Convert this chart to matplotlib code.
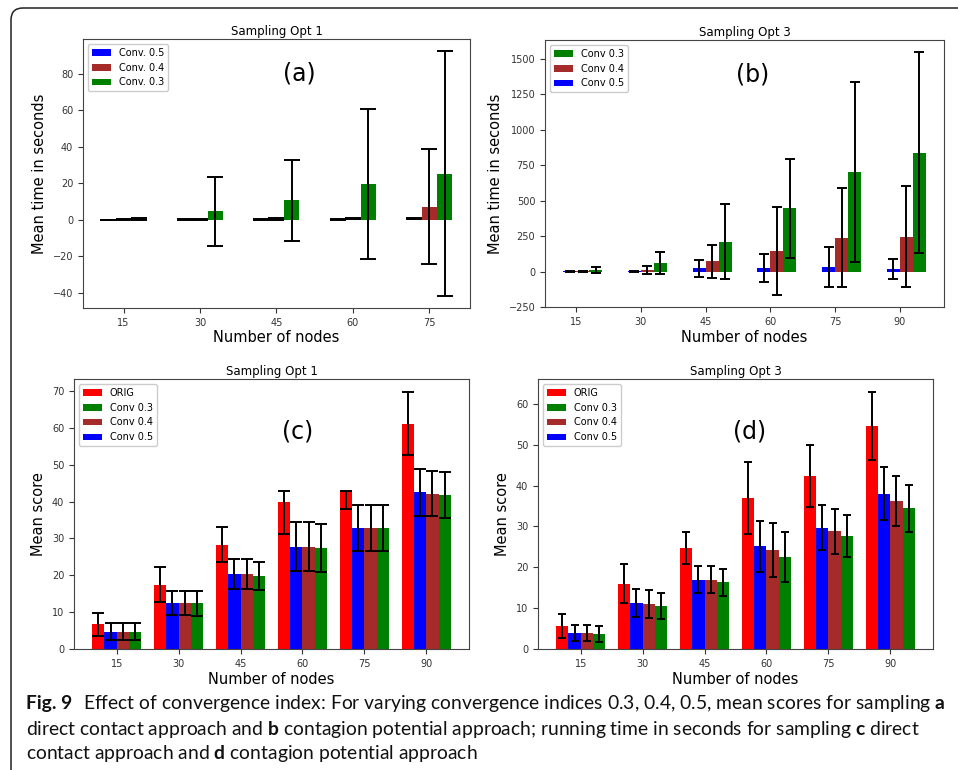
import matplotlib
matplotlib.use('Agg')
import matplotlib.pyplot as plt
import numpy as np
from matplotlib.patches import FancyBboxPatch
from matplotlib.transforms import IdentityTransform

# ---------------- data ----------------
nodes_a = ['15', '30', '45', '60', '75']
nodes = ['15', '30', '45', '60', '75', '90']

# (a) running time, Sampling Opt 1
a_c05 = [0.05, 0.1, 0.2, 0.3, 0.8]
a_c05_err = [0.05, 0.1, 0.1, 0.2, 0.3]
a_c04 = [0.1, 0.2, 0.4, 0.6, 7.2]
a_c04_err = [0.1, 0.2, 0.3, 0.4, 31.5]
a_c03 = [0.3, 4.6, 10.6, 19.4, 25.3]
a_c03_err = [0.4, 18.8, 22.3, 41.0, 66.9]

# (b) running time, Sampling Opt 3
b_c05 = [0.5, 1, 24, 24, 33, 19]
b_c05_err = [1, 1, 60, 97, 143, 72]
b_c04 = [0.5, 10, 71, 145, 240, 247]
b_c04_err = [1, 30, 117, 308, 352, 358]
b_c03 = [10, 61, 212, 445, 704, 839]
b_c03_err = [22, 75, 265, 348, 634, 709]
b_ymin = -250

# (c) mean score, Sampling Opt 1
c_orig = [6.7, 17.5, 28.2, 39.9, 43.0, 61.2]
c_orig_err_lo = [3.2, 4.7, 4.7, 8.6, 5.0, 8.6]
c_orig_err_hi = [3.1, 4.8, 4.8, 3.0, 0.0, 8.6]
c_c05 = [4.7, 12.5, 20.3, 27.8, 32.8, 42.5]
c_c05_err = [2.3, 3.3, 4.0, 6.7, 6.2, 6.4]
c_c04 = [4.7, 12.5, 20.3, 27.8, 32.8, 42.2]
c_c04_err = [2.3, 3.3, 4.0, 6.7, 6.2, 6.2]
c_c03 = [4.7, 12.4, 19.8, 27.5, 32.8, 41.8]
c_c03_err = [2.3, 3.4, 3.8, 6.5, 6.2, 6.2]

# (d) mean score, Sampling Opt 3
d_orig = [5.7, 16.0, 24.7, 36.9, 42.4, 54.6]
d_orig_err = [2.95, 4.8, 3.9, 8.8, 7.65, 8.35]
d_c05 = [3.85, 11.3, 17.0, 25.1, 29.7, 38.05]
d_c05_err = [2.0, 3.4, 3.4, 6.2, 5.45, 6.4]
d_c04 = [3.85, 11.1, 17.0, 24.2, 28.8, 36.2]
d_c04_err = [2.0, 3.4, 3.4, 6.6, 5.45, 6.05]
d_c03 = [3.6, 10.6, 16.3, 22.5, 27.6, 34.4]
d_c03_err = [2.0, 3.2, 3.35, 6.05, 5.2, 5.65]

caption_label = "Fig. 9"
caption_lines = [
    r"Effect of convergence index: For varying convergence indices 0.3, 0.4, 0.5, mean scores for sampling $\mathbf{a}$",
    r"direct contact approach and $\mathbf{b}$ contagion potential approach; running time in seconds for sampling $\mathbf{c}$ direct",
    r"contact approach and $\mathbf{d}$ contagion potential approach",
]

# ---------------- style ----------------
plt.rcParams['font.family'] = ['DejaVu Sans']
plt.rcParams['mathtext.fontset'] = 'custom'
plt.rcParams['mathtext.rm'] = 'Lato'
plt.rcParams['mathtext.bf'] = 'Lato:bold'
plt.rcParams['axes.edgecolor'] = '#444444'
plt.rcParams['xtick.color'] = '#333333'
plt.rcParams['ytick.color'] = '#333333'

TICK = 7
LAB = 10.5
TIT = 8.5
LEG = 7
PANEL = 17

W, H = 958, 770
fig = plt.figure(figsize=(W / 100, H / 100), dpi=100)


def axrect(l, t, r, b):
    return [l / W, 1 - b / H, (r - l) / W, (b - t) / H]


def ekw(cs):
    return dict(ecolor='black', elinewidth=1.4, capthick=1.4, capsize=cs)


def finish(ax, labels, title, ylabel, tag, tagpos, handles):
    ax.set_xticks(np.arange(len(labels)))
    ax.set_xticklabels(labels)
    ax.tick_params(labelsize=TICK)
    ax.set_title(title, fontsize=TIT, pad=3)
    ax.set_xlabel('Number of nodes', fontsize=LAB, labelpad=2)
    ax.set_ylabel(ylabel, fontsize=LAB)
    ax.text(tagpos[0], tagpos[1], tag, transform=ax.transAxes, fontsize=PANEL,
            ha='center', va='center')
    ax.legend(handles=handles, loc='upper left', fontsize=LEG, framealpha=1)


# (a)
ax = fig.add_axes(axrect(83, 39, 470, 308))
x = np.arange(len(nodes_a))
cs = 5.5
h05 = ax.bar(x - 0.2, a_c05, 0.2, yerr=a_c05_err, color='blue', label='Conv. 0.5', error_kw=ekw(cs))
h04 = ax.bar(x, a_c04, 0.2, yerr=a_c04_err, color='brown', label='Conv. 0.4', error_kw=ekw(cs))
h03 = ax.bar(x + 0.2, a_c03, 0.2, yerr=a_c03_err, color='green', label='Conv. 0.3', error_kw=ekw(cs))
finish(ax, nodes_a, 'Sampling Opt 1', 'Mean time in seconds', '(a)', (0.558, 0.87),
       [h05, h04, h03])

# (b)
ax = fig.add_axes(axrect(545, 40, 944, 307))
x = np.arange(len(nodes))
cs = 3.3
h05 = ax.bar(x - 0.1, b_c05, 0.2, yerr=b_c05_err, color='blue', label='Conv 0.5', error_kw=ekw(cs))
h04 = ax.bar(x + 0.1, b_c04, 0.2, yerr=b_c04_err, color='brown', label='Conv 0.4', error_kw=ekw(cs))
h03 = ax.bar(x + 0.3, b_c03, 0.2, yerr=b_c03_err, color='green', label='Conv 0.3', error_kw=ekw(cs))
ax.set_ylim(bottom=b_ymin)
finish(ax, nodes, 'Sampling Opt 3', 'Mean time in seconds', '(b)', (0.521, 0.869),
       [h03, h04, h05])

# (c)
ax = fig.add_axes(axrect(74, 379, 469, 649))
cs = 4
ho = ax.bar(x - 0.3, c_orig, 0.2, yerr=[c_orig_err_lo, c_orig_err_hi], color='red', label='ORIG', error_kw=ekw(cs))
h05 = ax.bar(x - 0.1, c_c05, 0.2, yerr=c_c05_err, color='blue', label='Conv 0.5', error_kw=ekw(cs))
h04 = ax.bar(x + 0.1, c_c04, 0.2, yerr=c_c04_err, color='brown', label='Conv 0.4', error_kw=ekw(cs))
h03 = ax.bar(x + 0.3, c_c03, 0.2, yerr=c_c03_err, color='green', label='Conv 0.3', error_kw=ekw(cs))
finish(ax, nodes, 'Sampling Opt 1', 'Mean score', '(c)', (0.565, 0.807),
       [ho, h03, h04, h05])

# (d)
ax = fig.add_axes(axrect(538, 379, 933, 649))
cs = 3.2
ho = ax.bar(x - 0.3, d_orig, 0.2, yerr=d_orig_err, color='red', label='ORIG', error_kw=ekw(cs))
h05 = ax.bar(x - 0.1, d_c05, 0.2, yerr=d_c05_err, color='blue', label='Conv 0.5', error_kw=ekw(cs))
h04 = ax.bar(x + 0.1, d_c04, 0.2, yerr=d_c04_err, color='brown', label='Conv 0.4', error_kw=ekw(cs))
h03 = ax.bar(x + 0.3, d_c03, 0.2, yerr=d_c03_err, color='green', label='Conv 0.3', error_kw=ekw(cs))
finish(ax, nodes, 'Sampling Opt 3', 'Mean score', '(d)', (0.535, 0.807),
       [ho, h03, h04, h05])

# ---------------- frame ----------------
frame = FancyBboxPatch((11, -40), 1000, H - 8 + 40,
                       boxstyle='round,pad=0,rounding_size=12',
                       transform=IdentityTransform(), fill=False,
                       edgecolor='#222222', linewidth=1.1, zorder=0)
fig.patches.append(frame)

# ---------------- caption ----------------
renderer = fig.canvas.get_renderer()
cap_x = 26
cap_right = 945
cap_y = [703, 729, 754]
fs = 12
gap_em = 0.55

lab = fig.text(cap_x / W, 1 - cap_y[0] / H, caption_label, fontsize=fs,
               family='Lato', weight='bold', ha='left', va='center', color='#111111')
texts = []
for line, yy in zip(caption_lines, cap_y):
    t = fig.text(cap_x / W, 1 - yy / H, line, fontsize=fs, family='Lato',
                 ha='left', va='center', color='#111111')
    texts.append(t)


def line1_width(size):
    lab.set_fontsize(size)
    texts[0].set_fontsize(size)
    wl = lab.get_window_extent(renderer).width
    wr = texts[0].get_window_extent(renderer).width
    return wl, wr, wl + gap_em * size * 100 / 72 + wr


_, _, w0 = line1_width(fs)
fs2 = fs * (cap_right - cap_x) / w0
wl, wr, w1 = line1_width(fs2)
for t in texts:
    t.set_fontsize(fs2)
texts[0].set_x((cap_x + wl + gap_em * fs2 * 100 / 72) / W)

fig.savefig('out.png', dpi=100)
